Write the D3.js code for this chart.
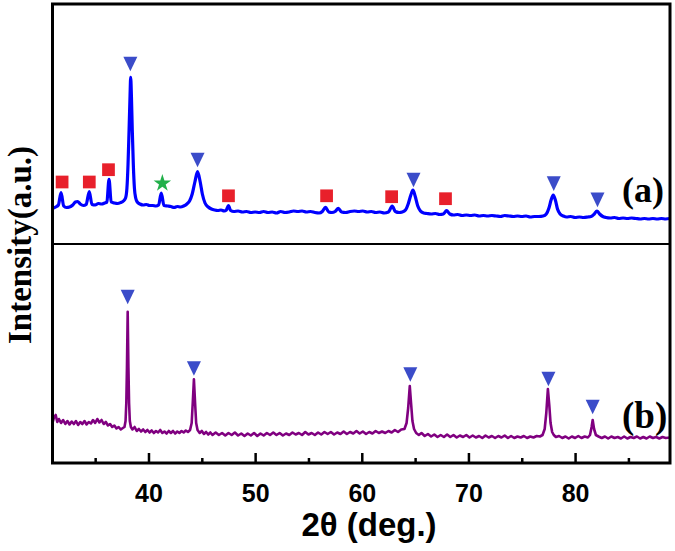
<!DOCTYPE html>
<html>
<head>
<meta charset="utf-8">
<script src="https://cdn.jsdelivr.net/npm/d3@7/dist/d3.min.js"></script>
<style>
  html, body { margin: 0; padding: 0; background: #fff; }
  svg { display: block; }
</style>
</head>
<body>
<svg id="chart" width="675" height="551"></svg>
<script>
// ---------------- DATA ----------------
// pattern (a): 2theta (deg) and intensity (a.u.)
const thetaA = [31.0,31.3,31.55,31.8,32.05,32.3,32.6,32.9,33.15,33.35,33.6,33.9,34.15,34.45,34.7,35.0,35.3,35.6,35.9,36.1,36.3,36.5,36.8,37.1,37.4,37.65,37.85,37.98,38.08,38.18,38.27,38.33,38.4,38.48,38.58,38.68,38.8,38.95,39.2,39.5,39.8,40.1,40.4,40.7,40.95,41.2,41.45,41.8,42.1,42.4,42.7,43.0,43.3,43.6,43.85,44.1,44.35,44.6,44.85,45.05,45.3,45.6,45.9,46.2,46.5,46.8,47.1,47.3,47.5,47.7,48.0,48.4,48.8,49.2,49.6,50.0,50.4,50.8,51.2,51.6,52.0,52.4,52.8,53.2,53.6,54.0,54.4,54.8,55.2,55.6,56.0,56.3,56.6,56.9,57.2,57.5,57.8,58.1,58.5,58.9,59.3,59.7,60.1,60.5,60.9,61.3,61.7,62.1,62.5,62.85,63.15,63.5,63.8,64.1,64.35,64.6,64.8,65.0,65.25,65.5,65.8,66.1,66.5,66.9,67.3,67.65,67.95,68.25,68.6,69.0,69.4,69.8,70.2,70.6,71.0,71.4,71.8,72.2,72.6,73.0,73.4,73.8,74.2,74.6,75.0,75.4,75.8,76.2,76.6,77.0,77.3,77.55,77.75,77.95,78.15,78.35,78.6,78.9,79.2,79.6,80.0,80.4,80.8,81.2,81.5,81.8,82.05,82.3,82.6,82.9,83.3,83.7,84.1,84.5,84.9,85.3,85.7,86.1,86.5,86.9,87.3,87.7,88.1,88.5,88.9];
const intensityA = [35.5,37,39,51.3,38,36.5,37,39,42,42.5,40,38.5,39.5,52.3,39.5,39,40.5,40,41,42,64.7,42,41,40.5,41.5,43,46,56,79,114,148,166.7,148,114,79,56,46,42,40,39,39.5,38.5,38.5,38,39,51,38.5,38,37.5,36.5,37.5,37,38,40,43,50,62,72.3,62,50,41,37,35,34,33.5,34,33,34,38.3,33.5,32.5,33,32,32.5,31.5,32,31.5,32.5,31.5,32,31,32.5,31.5,32,33,32.5,33,32,32.5,31.5,31,32.5,36.7,32,31.5,32.5,35.7,32,31.5,32.5,33,32.5,33,32,32.5,31.5,32,31,32,38,32.5,31.5,32,34,40,49,54,48,38,33,31,30.5,30,30.5,29.5,30,33.3,30,29,29.5,28.5,29,28.5,29,28,28.5,28,28.5,28,27.5,28.5,28,27.5,28,27.5,28,27,27.5,27.5,28,30,36,44,49,44,35,30,28,27,27.5,26.5,27,26.5,27,27.5,30,33,30,27.5,26.5,26,26.5,25.5,26,25.5,26,25.5,25,25.5,25,25.5,25,25.5,25,25.5];

// pattern (b)
const thetaB = [31.0,31.15,31.3,31.45,31.6,31.8,32.0,32.2,32.4,32.6,32.8,33.0,33.2,33.4,33.6,33.8,34.0,34.2,34.4,34.6,34.8,35.0,35.2,35.4,35.6,35.8,36.0,36.2,36.4,36.6,36.8,37.0,37.2,37.4,37.6,37.75,37.85,37.92,37.98,38.05,38.12,38.18,38.25,38.35,38.5,38.7,38.9,39.1,39.3,39.5,39.7,39.9,40.1,40.3,40.5,40.7,40.9,41.1,41.3,41.5,41.7,41.9,42.1,42.3,42.5,42.7,42.9,43.1,43.3,43.5,43.7,43.9,44.05,44.15,44.26,44.37,44.47,44.6,44.8,45.0,45.2,45.4,45.6,45.8,46.0,46.3,46.6,46.9,47.2,47.5,47.8,48.1,48.4,48.7,49.0,49.3,49.6,49.9,50.2,50.5,50.8,51.1,51.4,51.7,52.0,52.3,52.6,52.9,53.2,53.5,53.8,54.1,54.4,54.7,55.0,55.3,55.6,55.9,56.2,56.5,56.8,57.1,57.4,57.7,58.0,58.3,58.6,58.9,59.2,59.5,59.8,60.1,60.4,60.7,61.0,61.3,61.6,61.9,62.2,62.5,62.8,63.1,63.4,63.7,64.0,64.2,64.35,64.5,64.62,64.75,64.9,65.1,65.35,65.6,65.9,66.2,66.5,66.8,67.1,67.4,67.7,68.0,68.3,68.6,68.9,69.2,69.5,69.8,70.1,70.4,70.7,71.0,71.3,71.6,71.9,72.2,72.5,72.8,73.1,73.4,73.7,74.0,74.3,74.6,74.9,75.2,75.5,75.8,76.1,76.4,76.7,76.95,77.15,77.3,77.45,77.58,77.7,77.85,78.0,78.2,78.5,78.8,79.1,79.4,79.7,80.0,80.3,80.6,80.9,81.2,81.4,81.55,81.65,81.78,81.95,82.2,82.5,82.8,83.1,83.4,83.7,84.0,84.3,84.6,84.9,85.2,85.5,85.8,86.1,86.4,86.7,87.0,87.3,87.6,87.9,88.2,88.5,88.9];
const intensityB = [40,46,48,41,44,40,43,39,42,38.5,41.5,39,42,38,41,39,42,38.5,41,39.5,43,40,44,40.5,43,39,41,37.5,39,36,37.5,34.5,36,33.5,35,36,42,60,95,151.3,95,60,42,36,33.5,36,32,34,31.5,33.5,31,33,30.5,32.5,30,32,30.5,33,30,31.5,29.5,32,30,32,29.5,31.5,30,32,30.5,32.5,31,33,40,60,83.7,60,40,33,30,32,29,31,28.5,30.5,28,30.5,28,30,27.5,30,28,30.5,27.5,29.5,27,29.5,27.5,30,27,29.5,27.5,30,28,30.5,28,30,27.5,29.5,28,30.5,28.5,30,28,31,28.5,30,28,30.5,28.5,31,29,31,28.5,30.5,29,31.5,29,31,29.5,32,29.5,31.5,29,31,29.5,32,30,31.5,30,32,30.5,33,31,33.5,34,40,55,77,60,42,34,30,28,30,27,29,26.5,28.5,26,28,26,28.5,26,28,25.5,27.5,26,28,25.5,27.5,25.5,27,25,27.5,25.5,27,25,27,25.5,27.5,25,27,25,26.5,25.5,27,25,26.5,25.5,27,26.5,28,34,50,74,58,40,31,28,26,27,25,26.5,24.5,26.5,25,27,25,26.5,25.5,28,36,43,34,28,26.5,25,26.5,24.5,26.5,25,26,24.5,26.5,24.5,26,25,26.5,24.5,26,24.5,26.5,25,26,24.5,26,25,25.5];

// phase markers, panel (a)
const triA_theta = [38.3, 44.6, 64.85, 78.0, 82.1];
const triA_int   = [180, 84, 64, 60.3, 44.2];
const sqA_theta  = [31.9, 34.45, 36.25, 47.5, 56.7, 62.8, 67.85];
const sqA_int    = [62, 62, 74.3, 48.2, 48.2, 47.3, 45.3];
const starA_theta = [41.3];
const starA_int   = [60.7];
// phase markers, panel (b)
const triB_theta = [38.05, 44.26, 64.55, 77.5, 81.65];
const triB_int   = [166, 94.5, 88.5, 84, 56];

// axis ticks
const majorTicks = [40, 50, 60, 70, 80];
const minorTicks = [35, 45, 55, 65, 75, 85];
const panelLabels = ["(a)", "(b)"];
const xTitle = "2\u03b8 (deg.)";
const yTitle = "Intensity(a.u.)";

// ---------------- LAYOUT ----------------
const svg = d3.select("#chart");
const L = 52.5, R = 670, T = 4, MID = 244, B = 463;

const x = d3.scaleLinear().domain([31, 88.9]).range([L, R]);
const yA = d3.scaleLinear().domain([0, 240]).range([MID, T]);
const yB = d3.scaleLinear().domain([0, 219]).range([B, MID]);

svg.append("rect").attr("width", 675).attr("height", 551).attr("fill", "#fff");

const defs = svg.append("defs");
defs.append("clipPath").attr("id", "clipA").append("rect")
  .attr("x", L).attr("y", T).attr("width", R - L).attr("height", MID - T);
defs.append("clipPath").attr("id", "clipB").append("rect")
  .attr("x", L).attr("y", MID).attr("width", R - L).attr("height", B - MID);

// lines
const dataA = thetaA.map((t, i) => [t, intensityA[i]]);
const dataB = thetaB.map((t, i) => [t, intensityB[i]]);

svg.append("path")
  .datum(dataA)
  .attr("clip-path", "url(#clipA)")
  .attr("fill", "none")
  .attr("stroke", "#0000ff")
  .attr("stroke-width", 3.2)
  .attr("stroke-linejoin", "round")
  .attr("d", d3.line().x(d => x(d[0])).y(d => yA(d[1])).curve(d3.curveMonotoneX));

svg.append("path")
  .datum(dataB)
  .attr("clip-path", "url(#clipB)")
  .attr("fill", "none")
  .attr("stroke", "#800080")
  .attr("stroke-width", 2.6)
  .attr("stroke-linejoin", "round")
  .attr("d", d3.line().x(d => x(d[0])).y(d => yB(d[1])));

// markers
const invTriangle = {
  draw(ctx, size) {
    const w = Math.sqrt(size), h = w * 1.05;
    ctx.moveTo(-w / 2, -h / 2);
    ctx.lineTo(w / 2, -h / 2);
    ctx.lineTo(0, h / 2);
    ctx.closePath();
  }
};
const triColor = "#3b4cc9";
const sqColor = "#e8202b";
const starColor = "#22b04a";

function drawMarkers(thetas, ints, yScale, type, size, color) {
  svg.append("g").selectAll("path")
    .data(thetas.map((t, i) => [t, ints[i]]))
    .join("path")
    .attr("transform", d => `translate(${x(d[0])},${yScale(d[1])})`)
    .attr("d", d3.symbol().type(type).size(size))
    .attr("fill", color);
}
drawMarkers(triA_theta, triA_int, yA, invTriangle, 196, triColor);
drawMarkers(sqA_theta, sqA_int, yA, d3.symbolSquare, 162, sqColor);
drawMarkers(starA_theta, starA_int, yA, d3.symbolStar, 95, starColor);
drawMarkers(triB_theta, triB_int, yB, invTriangle, 196, triColor);

// frame
svg.append("rect")
  .attr("x", L).attr("y", T).attr("width", R - L).attr("height", B - T)
  .attr("fill", "none").attr("stroke", "#000").attr("stroke-width", 3);
svg.append("line")
  .attr("x1", L).attr("x2", R).attr("y1", MID).attr("y2", MID)
  .attr("stroke", "#000").attr("stroke-width", 2);

// x axis (ticks pointing inward)
const axMajor = svg.append("g").attr("transform", `translate(0,${B})`)
  .call(d3.axisBottom(x).tickValues(majorTicks).tickSize(-10).tickPadding(21).tickFormat(d3.format("d")));
axMajor.select(".domain").remove();
axMajor.selectAll(".tick line").attr("stroke", "#000").attr("stroke-width", 2.5);
axMajor.selectAll(".tick text")
  .attr("font-family", "'Liberation Sans', Arial, sans-serif")
  .attr("font-weight", "bold").attr("font-size", 25).attr("fill", "#000");

const axMinor = svg.append("g").attr("transform", `translate(0,${B})`)
  .call(d3.axisBottom(x).tickValues(minorTicks).tickSize(-5).tickFormat(""));
axMinor.select(".domain").remove();
axMinor.selectAll(".tick line").attr("stroke", "#000").attr("stroke-width", 2.5);

// titles
svg.append("text")
  .attr("x", 369).attr("y", 536)
  .attr("text-anchor", "middle")
  .attr("font-family", "'Liberation Sans', Arial, sans-serif")
  .attr("font-weight", "bold").attr("font-size", 33)
  .text(xTitle);

svg.append("text")
  .attr("transform", "translate(31,245) rotate(-90)")
  .attr("text-anchor", "middle")
  .attr("font-family", "'Liberation Serif', 'Times New Roman', serif")
  .attr("font-weight", "bold").attr("font-size", 33)
  .text(yTitle);

// panel labels
svg.append("text")
  .attr("x", 622).attr("y", 202)
  .attr("font-family", "'Liberation Serif', 'Times New Roman', serif")
  .attr("font-weight", "bold").attr("font-size", 36)
  .text(panelLabels[0]);
svg.append("text")
  .attr("x", 622).attr("y", 428)
  .attr("font-family", "'Liberation Serif', 'Times New Roman', serif")
  .attr("font-weight", "bold").attr("font-size", 37)
  .text(panelLabels[1]);
</script>
</body>
</html>
